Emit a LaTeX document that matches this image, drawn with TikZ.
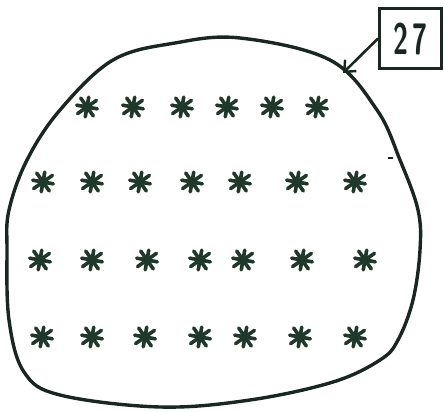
\documentclass[tikz,border=0pt]{standalone}
\usepackage{fontspec}
\usepackage{graphicx}
\usetikzlibrary{arrows.meta}
\definecolor{ink}{RGB}{24,40,32}
\definecolor{starink}{RGB}{30,56,42}
\tikzset{
  outline/.style={draw=ink, line width=3.4pt, line join=round},
  numbox/.style={draw=ink, line width=3pt, minimum width=62pt, minimum height=60pt, inner sep=0pt, text=ink},
  pointer/.style={draw=ink, line width=2.6pt, -{Straight Barb[length=9pt,width=16pt,line width=2.4pt]}},
  star/.pic={
    \fill[starink] (0,0) circle (5.5);
    \foreach \a/\r in {10/10.5,55/11,100/10,145/11.5,190/10.5,235/11,280/10,325/11.5}
      \draw[starink, line width=3.6pt, line cap=round] (0,0) -- (\a:\r);
  }
}
\begin{document}
\begin{tikzpicture}[x=1pt,y=-1pt]
\useasboundingbox (0,0) rectangle (445,412);
% blob
\draw[outline] plot[smooth cycle, tension=0.6] coordinates {
 (240,38) (330,60) (377,110) (400,160) (418,210) (420,250) (413,300) (398,340)
 (380,360) (333,382) (250,400) (160,407) (60,395) (24,372) (9,320) (7,250)
 (9,210) (27,160) (60,110) (113,60) (175,43)};
% stars
\foreach \x in {87,133,182,227,272,317} \pic at (\x,107) {star};
\foreach \x in {43,92,140,192,240,297,355} \pic at (\x,182) {star};
\foreach \x in {40,92,147,200,243,302,365} \pic at (\x,260) {star};
\foreach \x in {42,92,145,200,245,300,355} \pic at (\x,337) {star};
% small dash
\draw[ink, line width=1.5pt] (388,158) -- (393,158);
% label box and pointer
\node[numbox] (box) at (410.5,38.5) {\fontsize{44}{44}\selectfont\sffamily\bfseries\scalebox{0.62}[1]{2\,7}};
\coordinate (tip) at (343,73);
\draw[pointer] (box.west) -- (tip);
\end{tikzpicture}
\end{document}
